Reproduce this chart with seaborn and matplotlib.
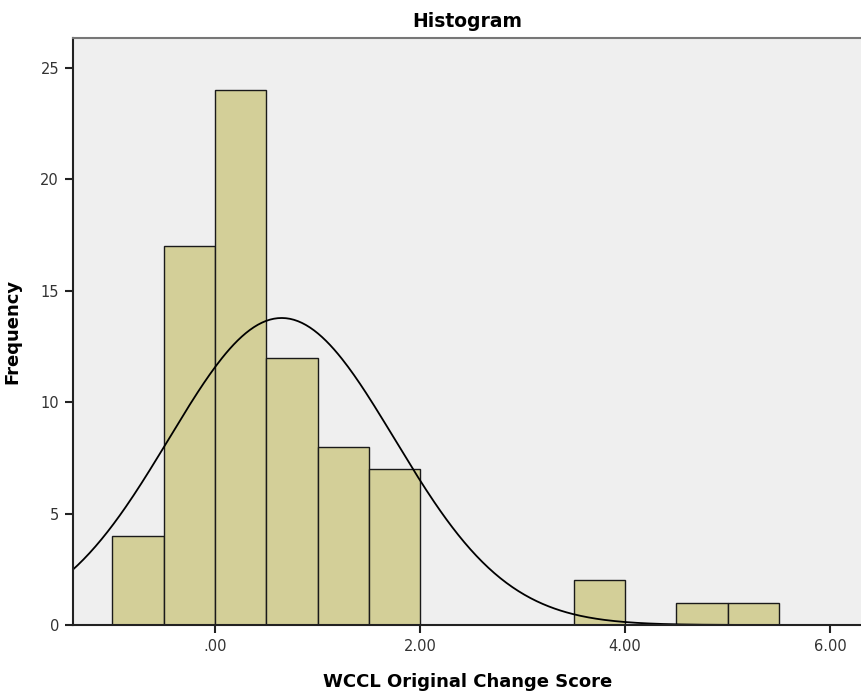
import numpy as np
import pandas as pd
import matplotlib
matplotlib.use("Agg")
import matplotlib.pyplot as plt
import seaborn as sns

# Data
bin_edges = [-1.0, -0.5, 0.0, 0.5, 1.0, 1.5, 2.0, 2.5, 3.0, 3.5, 4.0, 4.5, 5.0, 5.5]
counts = [4, 17, 24, 12, 8, 7, 0, 0, 0, 2, 0, 1, 1]
# Normal curve parameters (estimated)
curve_mean = 0.65
curve_sd = 1.10

x_ticks = [0, 2, 4, 6]
x_ticklabels = [".00", "2.00", "4.00", "6.00"]
y_ticks = [0, 5, 10, 15, 20, 25]

sns.set_style("white")
plt.rcParams['font.family'] = ['DejaVu Sans']

fig = plt.figure(figsize=(8.62, 6.96), dpi=100)
ax = fig.add_axes([0.0847, 0.102, 0.9153, 0.8434])
ax.set_facecolor("#EFEFEF")

centers = [(bin_edges[i] + bin_edges[i + 1]) / 2 for i in range(len(counts))]
df = pd.DataFrame({"x": centers, "w": counts})
sns.histplot(data=df, x="x", weights="w", bins=bin_edges, ax=ax,
             color="#D3CF98", edgecolor="#1a1a1a", linewidth=1.0, alpha=1.0)

n = sum(counts)
bw = bin_edges[1] - bin_edges[0]
xs = np.linspace(-1.4, 6.4, 400)
ys = n * bw / (curve_sd * np.sqrt(2 * np.pi)) * np.exp(-0.5 * ((xs - curve_mean) / curve_sd) ** 2)
sns.lineplot(x=xs, y=ys, ax=ax, color="black", linewidth=1.3)

ax.set_xlim(-1.385, 6.31)
ax.set_ylim(0, 26.35)
ax.set_xticks(x_ticks)
ax.set_xticklabels(x_ticklabels)
ax.set_yticks(y_ticks)
ax.tick_params(axis="both", direction="out", length=6, width=1.5, color="#222222",
               labelsize=10.5, labelcolor="#333333", bottom=True, left=True, pad=4)

for s in ["left", "bottom"]:
    ax.spines[s].set_color("#222222")
    ax.spines[s].set_linewidth(1.5)
ax.spines["top"].set_color("#777777")
ax.spines["top"].set_linewidth(1.5)
ax.spines["right"].set_visible(False)

ax.set_title("Histogram", fontsize=13.5, fontweight="bold", pad=8, color="black")
ax.set_xlabel("WCCL Original Change Score", fontsize=13, fontweight="bold", labelpad=14, color="black")
ax.set_ylabel("Frequency", fontsize=13, fontweight="bold", labelpad=14, color="black")

fig.savefig("out.png", dpi=100)
